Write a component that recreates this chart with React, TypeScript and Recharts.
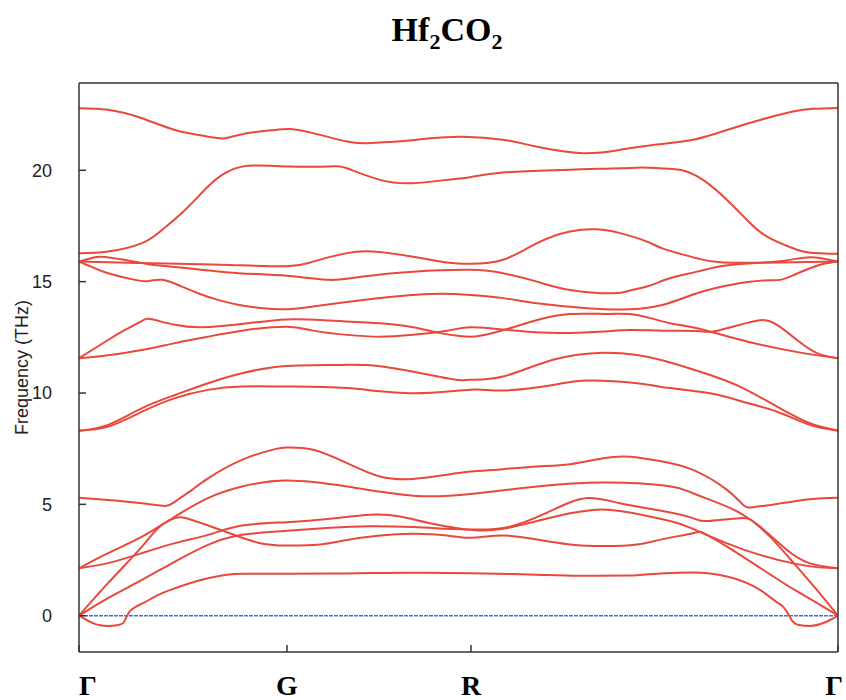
import { LineChart, Line, XAxis, YAxis, ReferenceLine } from 'recharts'

// path positions of the high-symmetry points (distance along the k-path)
const kTicks = [0, 208, 392, 759]
const kLabels = ['Γ', 'G', 'R', 'Γ']
const freqTicks = [0, 5, 10, 15, 20]

// phonon branches, [k, frequency (THz)]
const band01: [number, number][] = [
  [0, 0], [10, -0.25], [20, -0.42], [29, -0.46], [38, -0.43], [44, -0.34], [47, -0.1], [50, 0.15],
  [56, 0.38], [64, 0.56], [80, 0.95], [96, 1.23], [129, 1.68], [163, 1.88], [208, 1.88], [268, 1.9],
  [330, 1.93], [392, 1.91], [450, 1.85], [500, 1.79], [550, 1.8], [585, 1.91], [614, 1.94], [648, 1.76],
  [681, 1.16], [698, 0.6], [704, 0.41], [709, 0.1], [713, -0.22], [720, -0.42], [731, -0.46], [748, -0.26],
  [759, 0],
]
const band02: [number, number][] = [
  [0, 0], [29, 1.46], [63, 3.1], [79, 3.93], [96, 4.38], [113, 4.3], [146, 3.78], [179, 3.28], [208, 3.15],
  [241, 3.2], [268, 3.4], [301, 3.6], [334, 3.68], [368, 3.6], [392, 3.5], [424, 3.6], [458, 3.42],
  [491, 3.2], [524, 3.13], [558, 3.2], [585, 3.45], [614, 3.7], [624, 3.72], [648, 3.1], [681, 2.15],
  [714, 1.2], [737, 0.6], [759, 0],
]
const band03: [number, number][] = [
  [0, 0], [29, 0.79], [63, 1.61], [96, 2.43], [129, 3.18], [163, 3.63], [208, 3.81], [251, 3.95],
  [291, 4.02], [334, 3.98], [368, 3.9], [392, 3.87], [431, 4.0], [474, 4.75], [508, 5.28], [541, 5.05],
  [581, 4.72], [614, 4.38], [628, 4.25], [661, 4.38], [675, 4.2], [691, 3.55], [714, 2.4], [737, 1.2],
  [759, 0],
]
const band04: [number, number][] = [
  [0, 2.13], [29, 2.36], [63, 2.81], [96, 3.26], [129, 3.63], [163, 4.05], [208, 4.2], [251, 4.35],
  [291, 4.53], [321, 4.45], [351, 4.15], [380, 3.92], [400, 3.83], [424, 3.9], [458, 4.25], [491, 4.6],
  [514, 4.75], [541, 4.7], [591, 4.25], [614, 3.9], [648, 3.25], [681, 2.73], [714, 2.35], [740, 2.17],
  [759, 2.13],
]
const band05: [number, number][] = [
  [0, 2.13], [29, 2.81], [63, 3.55], [96, 4.45], [129, 5.28], [163, 5.8], [208, 6.07], [268, 5.8],
  [334, 5.39], [392, 5.47], [458, 5.8], [524, 5.98], [585, 5.85], [614, 5.5], [648, 4.9], [664, 4.53],
  [681, 4.0], [708, 2.95], [731, 2.35], [759, 2.13],
]
const band06: [number, number][] = [
  [0, 5.3], [29, 5.2], [63, 5.05], [86, 4.93], [96, 5.12], [113, 5.65], [129, 6.17], [163, 7.0],
  [196, 7.48], [208, 7.55], [234, 7.45], [268, 6.85], [301, 6.25], [334, 6.14], [368, 6.33], [392, 6.47],
  [424, 6.58], [458, 6.7], [491, 6.8], [524, 7.07], [551, 7.14], [581, 6.95], [614, 6.55], [648, 5.65],
  [664, 4.98], [674, 4.87], [698, 5.02], [731, 5.23], [759, 5.3],
]
const band07: [number, number][] = [
  [0, 8.31], [29, 8.49], [63, 9.16], [96, 9.77], [129, 10.14], [163, 10.29], [208, 10.29], [268, 10.22],
  [334, 9.99], [392, 10.15], [424, 10.11], [474, 10.36], [508, 10.56], [558, 10.44], [591, 10.22],
  [631, 9.99], [664, 9.61], [698, 9.16], [731, 8.57], [759, 8.31],
]
const band08: [number, number][] = [
  [0, 8.31], [29, 8.57], [63, 9.32], [96, 9.91], [129, 10.44], [163, 10.89], [196, 11.17], [220, 11.24],
  [260, 11.26], [301, 11.2], [351, 10.81], [380, 10.58], [392, 10.6], [424, 10.74], [474, 11.49], [524, 11.81],
  [558, 11.71], [585, 11.45], [631, 10.81], [664, 10.22], [698, 9.39], [731, 8.64], [759, 8.31],
]
const band09: [number, number][] = [
  [0, 11.56], [29, 11.7], [63, 11.93], [96, 12.24], [129, 12.53], [163, 12.8], [208, 12.98], [234, 12.8],
  [268, 12.61], [301, 12.53], [334, 12.62], [368, 12.8], [392, 12.95], [424, 12.85], [470, 12.7],
  [520, 12.75], [551, 12.83], [584, 12.8], [618, 12.78], [634, 12.76], [660, 13.05], [684, 13.28],
  [700, 13.0], [718, 12.38], [738, 11.79], [759, 11.56],
]
const band10: [number, number][] = [
  [0, 11.56], [29, 12.38], [46, 12.83], [63, 13.24], [73, 13.31], [96, 13.06], [123, 12.95], [163, 13.1],
  [208, 13.3], [251, 13.25], [301, 13.13], [334, 12.95], [360, 12.7], [380, 12.56], [392, 12.53],
  [405, 12.6], [430, 12.9], [460, 13.3], [491, 13.55], [530, 13.55], [558, 13.5], [591, 13.13],
  [618, 12.91], [668, 12.31], [724, 11.79], [759, 11.56],
]
const band11: [number, number][] = [
  [0, 15.9], [15, 15.62], [29, 15.38], [56, 15.08], [70, 15.03], [83, 15.08], [99, 14.85], [119, 14.48],
  [139, 14.18], [159, 13.96], [179, 13.83], [208, 13.76], [234, 13.88], [284, 14.18], [351, 14.45],
  [392, 14.4], [424, 14.26], [458, 14.03], [508, 13.81], [551, 13.76], [584, 13.96], [618, 14.48],
  [651, 14.85], [684, 15.05], [701, 15.08], [715, 15.3], [731, 15.6], [745, 15.8], [759, 15.9],
]
const band12: [number, number][] = [
  [0, 15.9], [12, 16.05], [23, 16.12], [45, 15.98], [65, 15.82], [80, 15.72], [120, 15.55], [160, 15.38],
  [208, 15.26], [251, 15.08], [284, 15.23], [334, 15.45], [392, 15.53], [424, 15.38], [458, 15.0],
  [491, 14.63], [534, 14.48], [551, 14.6], [568, 14.78], [591, 15.15], [618, 15.45], [651, 15.75],
  [701, 15.92], [731, 16.1], [759, 15.9],
]
const band13: [number, number][] = [
  [0, 15.9], [50, 15.85], [100, 15.8], [150, 15.75], [208, 15.69], [234, 15.9], [268, 16.28], [294, 16.35],
  [334, 16.12], [368, 15.86], [392, 15.8], [424, 15.98], [458, 16.73], [491, 17.25], [518, 17.35],
  [541, 17.18], [568, 16.8], [586, 16.45], [618, 16.05], [644, 15.86], [701, 15.86], [759, 15.9],
]
const band14: [number, number][] = [
  [0, 16.28], [29, 16.35], [63, 16.73], [83, 17.32], [106, 18.22], [129, 19.27], [146, 19.87], [169, 20.2],
  [209, 20.17], [251, 20.17], [268, 20.09], [301, 19.57], [334, 19.42], [368, 19.57], [391, 19.69],
  [424, 19.9], [491, 20.02], [558, 20.12], [581, 20.09], [601, 20.02], [624, 19.57], [648, 18.67],
  [668, 17.77], [688, 17.02], [714, 16.5], [731, 16.3], [759, 16.25],
]
const band15: [number, number][] = [
  [0, 22.79], [29, 22.72], [63, 22.34], [96, 21.81], [129, 21.51], [146, 21.44], [169, 21.67], [196, 21.81],
  [211, 21.85], [234, 21.67], [268, 21.29], [288, 21.22], [318, 21.29], [351, 21.44], [384, 21.51],
  [424, 21.37], [458, 21.06], [504, 20.77], [541, 20.92], [574, 21.14], [614, 21.37], [648, 21.81],
  [681, 22.26], [714, 22.64], [734, 22.76], [759, 22.8],
]

const bands = [
  band01, band02, band03, band04, band05, band06, band07, band08,
  band09, band10, band11, band12, band13, band14, band15,
]

const LINE_COLOR = '#e8493c'
const FRAME = '#333'
const SANS = "'Liberation Sans', Arial, sans-serif"

function KTick({ x, y, payload, index }: any) {
  const last = index === kTicks.length - 1
  const anchor = index === 0 ? 'start' : last ? 'end' : 'middle'
  const dx = last ? 9 : 0
  return (
    <text
      x={x + dx}
      y={y}
      dy="0.35em"
      textAnchor={anchor}
      fontFamily="'Liberation Serif', serif"
      fontWeight="bold"
      fontSize={28}
      fill="#000"
    >
      {kLabels[kTicks.indexOf(payload.value)]}
    </text>
  )
}

export default function App() {
  return (
    <div style={{ position: 'absolute', left: 0, top: 0, width: 846, height: 700, background: '#fff' }}>
      <div
        style={{
          position: 'absolute',
          left: 0,
          top: 10,
          width: 894,
          textAlign: 'center',
          fontFamily: "'Liberation Serif', serif",
          fontWeight: 'bold',
          fontSize: 34,
          lineHeight: '40px',
          color: '#000',
        }}
      >
        Hf<sub style={{ fontSize: 22 }}>2</sub>CO<sub style={{ fontSize: 22 }}>2</sub>
      </div>
      <LineChart width={846} height={700} margin={{ top: 0, right: 0, bottom: 0, left: 0 }}>
        <XAxis
          xAxisId="bottom"
          orientation="bottom"
          type="number"
          dataKey="0"
          domain={[0, 759]}
          ticks={kTicks}
          height={48}
          allowDataOverflow
          tickSize={-7}
          tickMargin={40}
          axisLine={{ stroke: FRAME, strokeWidth: 1.5 }}
          tickLine={{ stroke: FRAME, strokeWidth: 1.5 }}
          tick={<KTick />}
        />
        <XAxis
          xAxisId="top"
          orientation="top"
          type="number"
          dataKey="0"
          domain={[0, 759]}
          ticks={kTicks}
          height={83}
          allowDataOverflow
          tickSize={-7}
          axisLine={{ stroke: FRAME, strokeWidth: 1.5 }}
          tickLine={{ stroke: FRAME, strokeWidth: 1.5 }}
          tick={false}
        />
        <YAxis
          yAxisId="left"
          type="number"
          domain={[-1.63, 23.92]}
          ticks={freqTicks}
          width={79}
          allowDataOverflow
          tickSize={-7}
          tickMargin={34}
          axisLine={{ stroke: FRAME, strokeWidth: 1.5 }}
          tickLine={{ stroke: FRAME, strokeWidth: 1.5 }}
          tick={{ fill: '#222', fontSize: 18, fontFamily: SANS }}
          label={{
            value: 'Frequency (THz)',
            angle: -90,
            position: 'insideLeft',
            offset: 22,
            style: { textAnchor: 'middle', fill: '#222', fontSize: 18, fontFamily: SANS },
          }}
        />
        <YAxis
          yAxisId="right"
          orientation="right"
          type="number"
          domain={[-1.63, 23.92]}
          ticks={freqTicks}
          width={8}
          allowDataOverflow
          tickSize={-7}
          axisLine={{ stroke: FRAME, strokeWidth: 1.5 }}
          tickLine={{ stroke: FRAME, strokeWidth: 1.5 }}
          tick={false}
        />
        <ReferenceLine
          xAxisId="bottom"
          yAxisId="left"
          y={0}
          stroke="#3a70f0"
          strokeWidth={1.5}
          strokeDasharray="4 1"
        />
        {bands.map((band, i) => (
          <Line
            key={i}
            xAxisId="bottom"
            yAxisId="left"
            data={band}
            dataKey="1"
            type={i === 0 ? 'monotone' : 'natural'}
            stroke={LINE_COLOR}
            strokeWidth={2}
            dot={false}
            activeDot={false}
            isAnimationActive={false}
          />
        ))}
      </LineChart>
    </div>
  )
}
